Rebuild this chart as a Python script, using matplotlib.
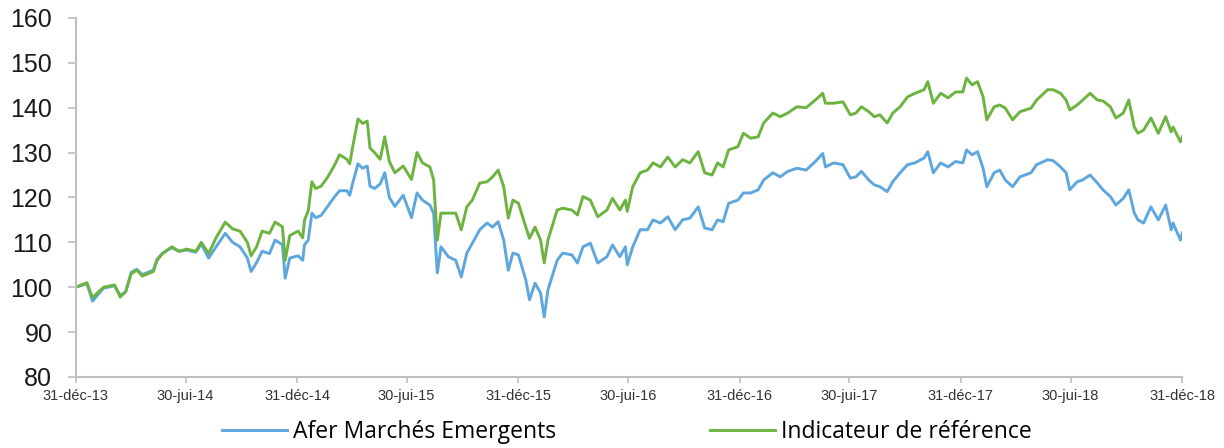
import matplotlib
matplotlib.use("Agg")
import matplotlib.pyplot as plt
import numpy as np
import pandas as pd

# months since 31-dec-2013
months = [0.0, 0.6, 0.9, 1.5, 2.1, 2.4, 2.7, 3.0, 3.3, 3.6, 4.2, 4.4, 4.7, 5.2, 5.6,
          6.0, 6.5, 6.8, 7.2, 7.6, 8.1, 8.5, 8.9, 9.3, 9.5, 9.8, 10.1, 10.5, 10.8,
          11.2, 11.35, 11.6, 12.05, 12.3, 12.4, 12.6, 12.8, 13.0, 13.3, 13.65, 14.0,
          14.3, 14.7, 14.85, 15.0, 15.3, 15.55, 15.8, 15.95, 16.2, 16.5, 16.75, 17.0,
          17.3, 17.75, 18.2, 18.5, 18.8, 19.2, 19.4, 19.6, 19.8, 20.2, 20.6, 20.9,
          21.2, 21.5, 21.9, 22.3, 22.6, 22.9, 23.2, 23.45, 23.7, 24.0, 24.4, 24.6,
          24.9, 25.2, 25.4, 25.6, 26.1, 26.4, 26.9, 27.2, 27.5, 27.9, 28.3, 28.8,
          29.1, 29.5, 29.8, 29.9, 30.2, 30.6, 31.0, 31.3, 31.7, 32.1, 32.5, 32.9,
          33.3, 33.75, 34.1, 34.5, 34.8, 35.1, 35.4, 35.9, 36.2, 36.6, 37.0, 37.3,
          37.8, 38.2, 38.6, 39.1, 39.6, 40.1, 40.5, 40.65, 41.1, 41.6, 42.0, 42.3,
          42.6, 43.0, 43.3, 43.6, 44.0, 44.3, 44.7, 45.1, 45.5, 46.0, 46.2, 46.5,
          46.9, 47.3, 47.7, 48.1, 48.3, 48.6, 48.9, 49.2, 49.4, 49.8, 50.1, 50.4,
          50.8, 51.2, 51.8, 52.1, 52.7, 53.0, 53.4, 53.7, 53.9, 54.3, 54.6, 55.0,
          55.4, 55.7, 56.1, 56.4, 56.8, 57.1, 57.4, 57.6, 57.9, 58.3, 58.7, 59.1,
          59.4, 59.5, 59.9, 60.0]

afer = [100, 100.8, 96.9, 99.8, 100.3, 98.2, 99, 103.3, 104, 102.8, 103.8, 106.2,
        107.6, 108.8, 108, 108.3, 107.8, 109.6, 106.5, 109, 112, 110, 109, 106.5,
        103.5, 105.5, 108, 107.5, 110.5, 109.5, 102, 106.5, 107, 106, 109.5, 110.5,
        116.5, 115.5, 116, 118, 120, 121.5, 121.5, 120.5, 123, 127.5, 126.5, 127,
        122.5, 122, 123, 125.5, 120, 118, 120.5, 115.5, 121, 119.4, 118.3, 116.5,
        103.2, 109, 106.8, 106, 102.3, 107.6, 109.8, 112.8, 114.3, 113.4, 114.6,
        110.5, 103.8, 107.6, 107.2, 101.6, 97.2, 100.9, 98.7, 93.4, 99.4, 106,
        107.6, 107.2, 105.4, 109, 109.8, 105.4, 106.8, 109.4, 106.8, 109, 105, 109,
        112.8, 112.8, 115, 114.3, 115.7, 112.8, 115, 115.4, 117.9, 113.2, 112.8,
        115, 114.6, 118.7, 119.4, 121, 121, 121.7, 123.9, 125.5, 124.6, 125.8,
        126.5, 126.1, 128, 129.8, 126.8, 127.7, 127.3, 124.3, 124.6, 125.8, 123.9,
        122.8, 122.4, 121.3, 123.5, 125.5, 127.3, 127.7, 128.8, 130.2, 125.5, 127.7,
        126.8, 128, 127.7, 130.6, 129.5, 130.2, 126.5, 122.4, 125.5, 126.1, 123.9,
        122.4, 124.6, 125.5, 127.3, 128.4, 128.2, 126.8, 125.5, 121.7, 123.5, 123.9,
        125, 123.2, 121.7, 120.2, 118.3, 119.8, 121.7, 116.5, 115, 114.3, 117.9,
        115, 118.3, 112.8, 114.3, 110.5, 112.1]

indicateur = [100, 101, 97.7, 100, 100.5, 97.8, 99, 103, 103.8, 102.5, 103.5, 106,
              107.5, 109, 108, 108.5, 108, 110, 107.5, 111, 114.5, 113, 112.5, 110,
              107, 109, 112.5, 112, 114.5, 113.5, 106, 111.5, 112.5, 111, 115, 117,
              123.5, 122, 122.5, 124.5, 127, 129.5, 128.5, 127.5, 131, 137.5, 136.5,
              137, 131, 130, 128.5, 133.5, 128, 125.5, 127, 124, 130, 127.7, 126.8,
              123.9, 110.5, 116.5, 116.5, 116.5, 112.8, 117.9, 119.4, 123.2, 123.5,
              124.6, 126.1, 122.4, 115.4, 119.4, 118.7, 113.4, 110.9, 113.4, 110.5,
              105.4, 110.5, 117.2, 117.6, 117.2, 116.1, 120.2, 119.4, 115.7, 117.2,
              119.8, 117.2, 119.4, 116.9, 122.4, 125.5, 126.1, 127.7, 126.8, 129,
              126.8, 128.4, 127.7, 130.2, 125.5, 125, 127.7, 126.8, 130.6, 131.3,
              134.3, 133.2, 133.5, 136.6, 138.8, 138, 138.8, 140.2, 140, 141.7, 143.2,
              141, 141, 141.3, 138.4, 138.8, 140.2, 139.1, 138, 138.4, 136.6, 138.8,
              140.2, 142.4, 143.2, 144, 145.8, 141, 143.2, 142.2, 143.5, 143.5, 146.6,
              145.1, 145.8, 142.4, 137.3, 140.2, 140.6, 139.9, 137.3, 139.1, 139.9,
              141.7, 144, 144, 143.2, 141.7, 139.5, 140.6, 141.7, 143.2, 141.7, 141.5,
              140.2, 137.7, 138.8, 141.7, 135.7, 134.3, 135, 137.7, 134.3, 138, 134.6,
              135.7, 132.4, 133.5]

tick_dates = ["2013-12-31", "2014-06-30", "2014-12-31", "2015-06-30", "2015-12-31",
              "2016-06-30", "2016-12-31", "2017-06-30", "2017-12-31", "2018-06-30",
              "2018-12-31"]
tick_labels = ["31-déc-13", "30-jui-14", "31-déc-14", "30-jui-15", "31-déc-15",
               "30-jui-16", "31-déc-16", "30-jui-17", "31-déc-17", "30-jui-18",
               "31-déc-18"]

start = pd.Timestamp("2013-12-31")
dates = start + pd.to_timedelta(np.array(months) * 30.44, unit="D")
ticks = pd.to_datetime(tick_dates)

fig = plt.figure(figsize=(12.24, 4.48), dpi=100)
ax = fig.add_axes([0.062, 0.1585, 0.9037, 0.8015])

ax.plot(dates, afer, color="#5EA7DE", linewidth=2.1, label="Afer Marchés Emergents")
ax.plot(dates, indicateur, color="#6CB33F", linewidth=2.1, label="Indicateur de référence")

ax.set_ylim(80, 160)
ax.set_yticks(range(80, 161, 10))
ax.set_xlim(ticks[0], ticks[-1])
ax.set_xticks(ticks)
ax.set_xticklabels(tick_labels, fontsize=10.5, family="Liberation Sans", color="#333333")
for lbl in ax.get_yticklabels():
    lbl.set_fontsize(18)
    lbl.set_family("Liberation Sans")
    lbl.set_color("#1a1a1a")

for side in ["top", "right"]:
    ax.spines[side].set_visible(False)
for side in ["left", "bottom"]:
    ax.spines[side].set_color("#BFBFBF")
    ax.spines[side].set_linewidth(1.5)
ax.tick_params(axis="y", length=6, width=1.2, color="#BFBFBF", pad=11)
ax.tick_params(axis="x", length=4, width=1.2, color="#BFBFBF", pad=5)

fig.legend(loc="center", bbox_to_anchor=(0.512, 0.036), ncol=2, frameon=False,
           prop={"family": "Open Sans", "size": 16.5}, handlelength=2.85,
           handletextpad=0.25, columnspacing=6.7)

fig.savefig("out.png", dpi=100)
